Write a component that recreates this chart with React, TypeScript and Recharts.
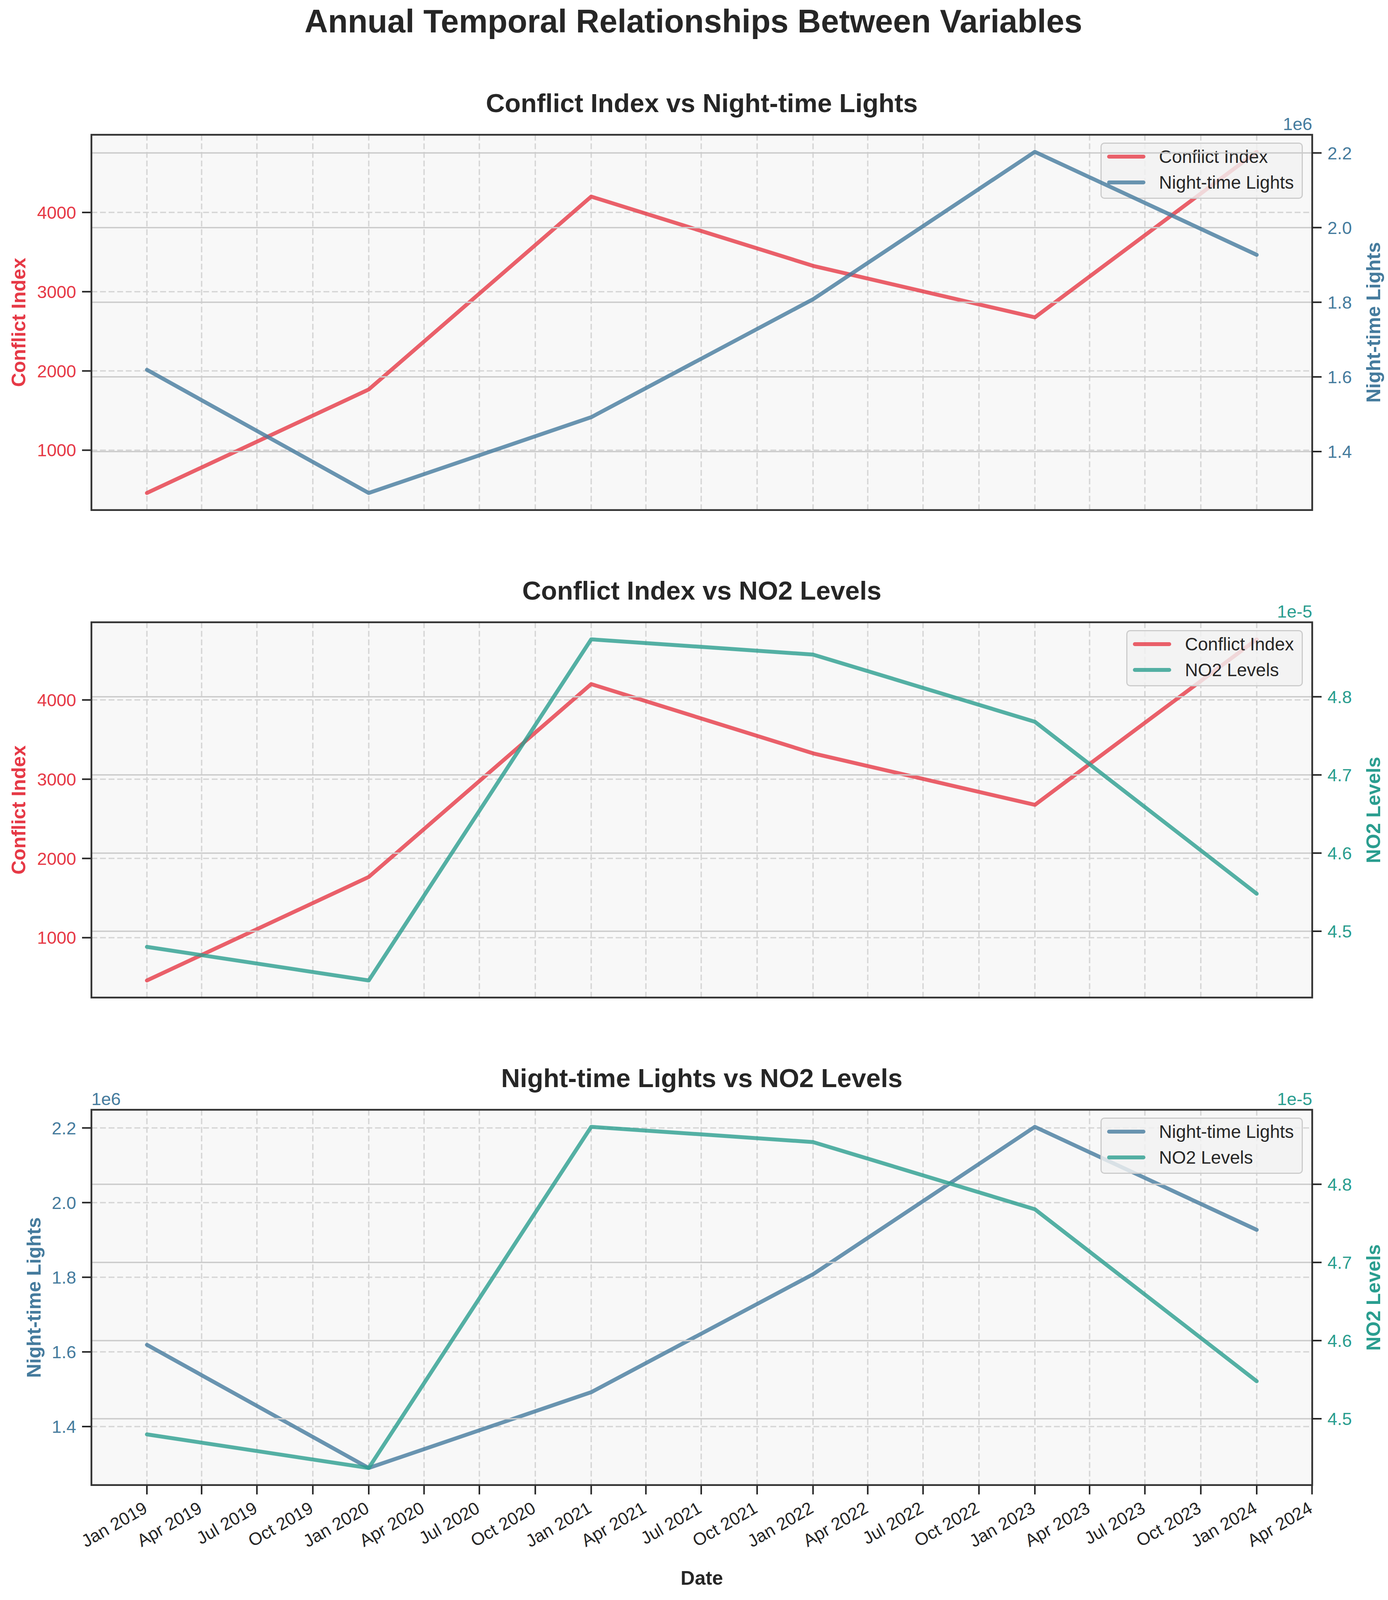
import { CartesianGrid, Line, LineChart, ReferenceArea, XAxis, YAxis } from 'recharts'

const years = [2019, 2020, 2021, 2022, 2023, 2024]
const conflictIndex = [460, 1766, 4200, 3326, 2676, 4765]
const nightLights = [1.619e6, 1.289e6, 1.492e6, 1.808e6, 2.203e6, 1.927e6]
const no2Levels = [4.48e-5, 4.437e-5, 4.8735e-5, 4.854e-5, 4.768e-5, 4.548e-5]

const quarterLabels = [
  'Jan 2019', 'Apr 2019', 'Jul 2019', 'Oct 2019',
  'Jan 2020', 'Apr 2020', 'Jul 2020', 'Oct 2020',
  'Jan 2021', 'Apr 2021', 'Jul 2021', 'Oct 2021',
  'Jan 2022', 'Apr 2022', 'Jul 2022', 'Oct 2022',
  'Jan 2023', 'Apr 2023', 'Jul 2023', 'Oct 2023',
  'Jan 2024', 'Apr 2024',
]
const conflictTicks = [1000, 2000, 3000, 4000]
const lightsTicks = [1.4e6, 1.6e6, 1.8e6, 2.0e6, 2.2e6]
const no2Ticks = [4.5e-5, 4.6e-5, 4.7e-5, 4.8e-5]

const MONTHS = ['Jan', 'Feb', 'Mar', 'Apr', 'May', 'Jun', 'Jul', 'Aug', 'Sep', 'Oct', 'Nov', 'Dec']
const toTime = (label: string) => {
  const [m, y] = label.split(' ')
  return Date.UTC(Number(y), MONTHS.indexOf(m), 1)
}

// matplotlib-style autoscale: data range plus 5% on each side
const pad = (vals: number[]): [number, number] => {
  const lo = Math.min(...vals)
  const hi = Math.max(...vals)
  const r = hi - lo
  return [lo - 0.05 * r, hi + 0.05 * r]
}

const times = years.map((y) => Date.UTC(y, 0, 1))
const quarterTicks = quarterLabels.map(toTime)
const timeDomain = pad(times)

const rows = years.map((_, i) => ({
  t: times[i],
  conflict: conflictIndex[i],
  lights: nightLights[i],
  no2: no2Levels[i],
}))

type SeriesKey = 'conflict' | 'lights' | 'no2'

type SeriesInfo = {
  name: string
  color: string
  ticks: number[]
  domain: [number, number]
  format: (v: number) => string
  offset: string | null
}

const SERIES: Record<SeriesKey, SeriesInfo> = {
  conflict: {
    name: 'Conflict Index',
    color: '#E63946',
    ticks: conflictTicks,
    domain: pad(conflictIndex),
    format: (v) => String(Math.round(v)),
    offset: null,
  },
  lights: {
    name: 'Night-time Lights',
    color: '#457B9D',
    ticks: lightsTicks,
    domain: pad(nightLights),
    format: (v) => (v / 1e6).toFixed(1),
    offset: '1e6',
  },
  no2: {
    name: 'NO2 Levels',
    color: '#2A9D8F',
    ticks: no2Ticks,
    domain: pad(no2Levels),
    format: (v) => (v / 1e-5).toFixed(1),
    offset: '1e-5',
  },
}

// the browser viewport is capped at 4096px tall, so the 4417px figure is laid out
// with its vertical positions compressed to fit (text sizes unchanged)
const W = 3553
const H = 4096
const SY = H / 4417
const fy = (y: number) => y * SY

type PanelConfig = {
  title: string
  left: SeriesKey
  right: SeriesKey
  plotTop: number
  showDates?: boolean
}

const PANELS: PanelConfig[] = [
  { title: 'Conflict Index vs Night-time Lights', left: 'conflict', right: 'lights', plotTop: fy(372) },
  { title: 'Conflict Index vs NO2 Levels', left: 'conflict', right: 'no2', plotTop: fy(1718) },
  { title: 'Night-time Lights vs NO2 Levels', left: 'lights', right: 'no2', plotTop: fy(3064), showDates: true },
]

const FONT = "'Liberation Sans', Arial, Helvetica, sans-serif"
const PLOT_L = 234
const PLOT_R = 3359
const PLOT_H = fy(1036)
const AXIS_W = 150
const M_TOP = 30
const M_BOT = 30
const X_AXIS_H = 200
const TEXT = '#262626'

function DateTick({ x, y, payload }: { x?: number; y?: number; payload?: { value: number } }) {
  const idx = quarterTicks.indexOf(payload?.value ?? -1)
  const ax = (x ?? 0) - 12
  const ay = y ?? 0
  return (
    <text
      x={ax}
      y={ay}
      dy="0.72em"
      transform={`rotate(-30 ${ax} ${ay})`}
      textAnchor="end"
      fontSize={45}
      fontFamily={FONT}
      fill={TEXT}
    >
      {quarterLabels[idx]}
    </text>
  )
}

function PanelLegend({ keys }: { keys: SeriesKey[] }) {
  return (
    <div
      style={{
        position: 'absolute',
        top: M_TOP + 20,
        right: W - PLOT_R + 24,
        padding: '0px 20px 6px 14px',
        border: '3.5px solid rgba(200,200,200,0.9)',
        borderRadius: 10,
        background: 'rgba(242,242,242,0.82)',
        fontFamily: FONT,
        fontSize: 46,
        color: TEXT,
      }}
    >
      {keys.map((k) => (
        <div key={k} style={{ display: 'flex', alignItems: 'center', height: 66, gap: 35 }}>
          <span
            style={{
              display: 'inline-block',
              width: 98,
              height: 10,
              borderRadius: 5,
              background: SERIES[k].color,
              opacity: 0.8,
            }}
          />
          <span style={{ whiteSpace: 'nowrap' }}>{SERIES[k].name}</span>
        </div>
      ))}
    </div>
  )
}

function Panel({ cfg }: { cfg: PanelConfig }) {
  const left = SERIES[cfg.left]
  const right = SERIES[cfg.right]
  const xH = cfg.showDates ? X_AXIS_H : 0
  const chartH = M_TOP + PLOT_H + xH + M_BOT
  const tickLine = { stroke: TEXT, strokeWidth: 4 }

  return (
    <div style={{ position: 'absolute', left: 0, top: cfg.plotTop - M_TOP, width: W, height: chartH }}>
      <div style={{ position: 'absolute', left: 0, top: 0 }}>
        <LineChart
          width={W}
          height={chartH}
          data={rows}
          margin={{ top: M_TOP, right: W - PLOT_R, bottom: M_BOT, left: PLOT_L - AXIS_W }}
        >
          <CartesianGrid
            yAxisId="left"
            fill="#f8f8f8"
            stroke="#d6d6d6"
            strokeWidth={3.5}
            strokeDasharray="15 7"
          />
          <XAxis
            dataKey="t"
            type="number"
            domain={timeDomain}
            ticks={quarterTicks}
            allowDataOverflow
            interval={0}
            hide={!cfg.showDates}
            height={xH}
            axisLine={false}
            tickLine={tickLine}
            tickSize={24}
            tickMargin={16}
            tick={<DateTick />}
          />
          <YAxis
            yAxisId="left"
            orientation="left"
            width={AXIS_W}
            type="number"
            domain={left.domain}
            ticks={left.ticks}
            allowDataOverflow
            interval={0}
            axisLine={false}
            tickLine={tickLine}
            tickSize={24}
            tickMargin={15}
            tickFormatter={left.format}
            tick={{ fill: left.color, fontSize: 45, fontFamily: FONT }}
          />
          <Line
            yAxisId="left"
            dataKey={cfg.left}
            name={left.name}
            type="linear"
            stroke={left.color}
            strokeOpacity={0.8}
            strokeWidth={10}
            strokeLinecap="round"
            strokeLinejoin="round"
            dot={false}
            activeDot={false}
            isAnimationActive={false}
          />
        </LineChart>
      </div>

      <PanelLegend keys={[cfg.left, cfg.right]} />

      <div style={{ position: 'absolute', left: 0, top: 0 }}>
        <LineChart
          width={W}
          height={chartH}
          data={rows}
          margin={{ top: M_TOP, right: W - PLOT_R - AXIS_W, bottom: M_BOT, left: PLOT_L }}
        >
          <CartesianGrid yAxisId="right" vertical={false} stroke="#cbcbcb" strokeWidth={3.5} />
          <XAxis
            dataKey="t"
            type="number"
            domain={timeDomain}
            ticks={quarterTicks}
            allowDataOverflow
            hide={!cfg.showDates}
            height={xH}
            axisLine={false}
            tickLine={false}
            tick={false}
          />
          <YAxis
            yAxisId="right"
            orientation="right"
            width={AXIS_W}
            type="number"
            domain={right.domain}
            ticks={right.ticks}
            allowDataOverflow
            interval={0}
            axisLine={false}
            tickLine={tickLine}
            tickSize={24}
            tickMargin={15}
            tickFormatter={right.format}
            tick={{ fill: right.color, fontSize: 45, fontFamily: FONT }}
          />
          <Line
            yAxisId="right"
            dataKey={cfg.right}
            name={right.name}
            type="linear"
            stroke={right.color}
            strokeOpacity={0.8}
            strokeWidth={10}
            strokeLinecap="round"
            strokeLinejoin="round"
            dot={false}
            activeDot={false}
            isAnimationActive={false}
          />
          <ReferenceArea
            yAxisId="right"
            x1={timeDomain[0]}
            x2={timeDomain[1]}
            y1={right.domain[0]}
            y2={right.domain[1]}
            fill="none"
            fillOpacity={0}
            stroke="#333333"
            strokeWidth={4.5}
            ifOverflow="visible"
          />
        </LineChart>
      </div>
    </div>
  )
}

function PanelText({ cfg }: { cfg: PanelConfig }) {
  const left = SERIES[cfg.left]
  const right = SERIES[cfg.right]
  const cy = cfg.plotTop + PLOT_H / 2
  const leftX = cfg.left === 'conflict' ? 65 : 104
  const rightX = 3533
  const midX = (PLOT_L + PLOT_R) / 2
  return (
    <g fontFamily={FONT}>
      <text x={midX} y={cfg.plotTop - 58} textAnchor="middle" fontSize={67} fontWeight="bold" fill={TEXT}>
        {cfg.title}
      </text>
      <text
        x={leftX}
        y={cy}
        transform={`rotate(-90 ${leftX} ${cy})`}
        textAnchor="middle"
        fontSize={50}
        fontWeight="bold"
        fill={left.color}
      >
        {left.name}
      </text>
      <text
        x={rightX}
        y={cy}
        transform={`rotate(-90 ${rightX} ${cy})`}
        textAnchor="middle"
        fontSize={50}
        fontWeight="bold"
        fill={right.color}
      >
        {right.name}
      </text>
      {left.offset ? (
        <text x={PLOT_L} y={cfg.plotTop - 12} textAnchor="start" fontSize={45} fill={left.color}>
          {left.offset}
        </text>
      ) : null}
      {right.offset ? (
        <text x={PLOT_R} y={cfg.plotTop - 12} textAnchor="end" fontSize={45} fill={right.color}>
          {right.offset}
        </text>
      ) : null}
    </g>
  )
}

export default function App() {
  return (
    <div style={{ position: 'absolute', left: 0, top: 0, width: W, height: H, background: '#ffffff', overflow: 'hidden' }}>
      {PANELS.map((cfg) => (
        <Panel key={cfg.title} cfg={cfg} />
      ))}
      <svg width={W} height={H} style={{ position: 'absolute', left: 0, top: 0, pointerEvents: 'none' }}>
        <text x={1775} y={fy(90)} textAnchor="middle" fontFamily={FONT} fontSize={83} fontWeight="bold" fill={TEXT}>
          Annual Temporal Relationships Between Variables
        </text>
        {PANELS.map((cfg) => (
          <PanelText key={cfg.title} cfg={cfg} />
        ))}
        <text
          x={(PLOT_L + PLOT_R) / 2}
          y={fy(4375)}
          textAnchor="middle"
          fontFamily={FONT}
          fontSize={50}
          fontWeight="bold"
          fill={TEXT}
        >
          Date
        </text>
      </svg>
    </div>
  )
}
